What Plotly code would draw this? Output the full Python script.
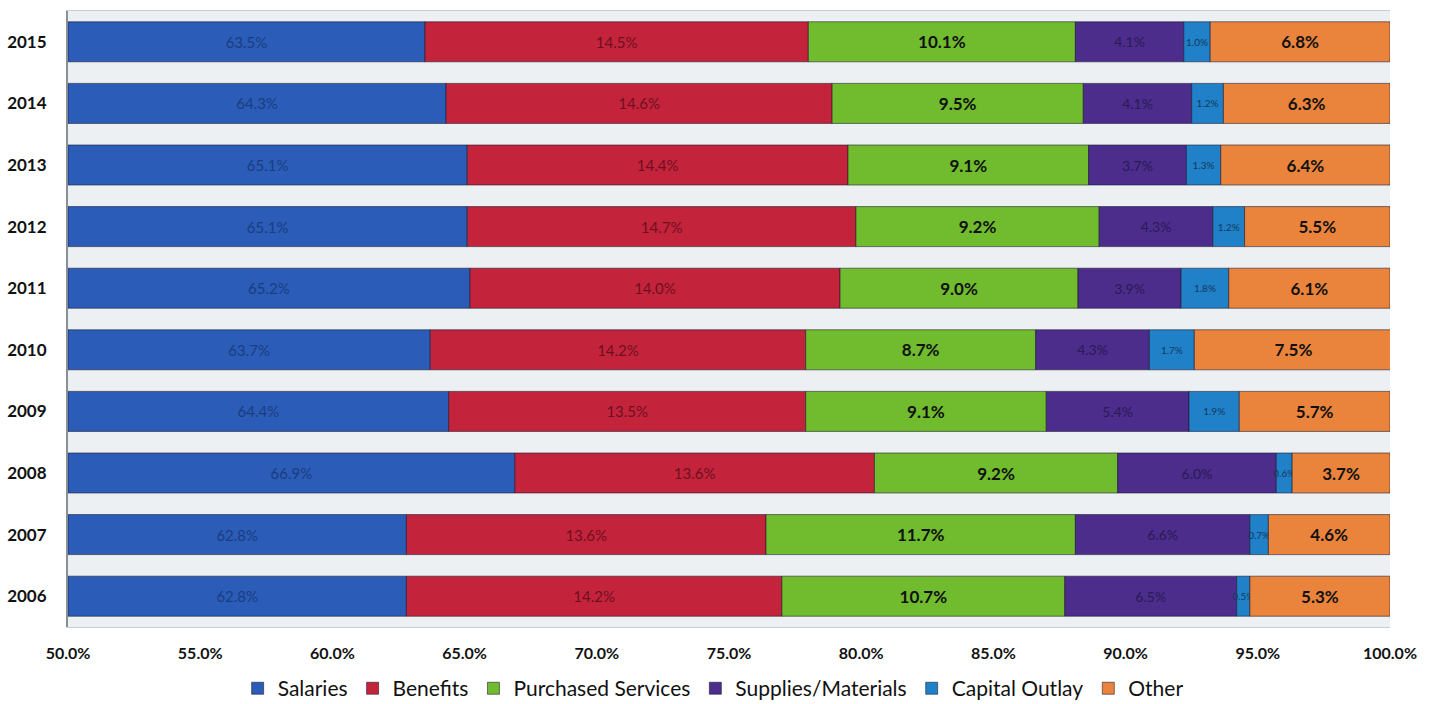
import plotly.graph_objects as go

# Share of total expenditure by category, per year
years = ["2006", "2007", "2008", "2009", "2010", "2011", "2012", "2013", "2014", "2015"]
salaries = [62.8, 62.8, 66.9, 64.4, 63.7, 65.2, 65.1, 65.1, 64.3, 63.5]
benefits = [14.2, 13.6, 13.6, 13.5, 14.2, 14.0, 14.7, 14.4, 14.6, 14.5]
purchased = [10.7, 11.7, 9.2, 9.1, 8.7, 9.0, 9.2, 9.1, 9.5, 10.1]
supplies = [6.5, 6.6, 6.0, 5.4, 4.3, 3.9, 4.3, 3.7, 4.1, 4.1]
capital = [0.5, 0.7, 0.6, 1.9, 1.7, 1.8, 1.2, 1.3, 1.2, 1.0]
other = [5.3, 4.6, 3.7, 5.7, 7.5, 6.1, 5.5, 6.4, 6.3, 6.8]

x_ticks = [50, 55, 60, 65, 70, 75, 80, 85, 90, 95, 100]
AXIS_START = 50

FONT = "Lato"

series = [
    ("Salaries", salaries, "#2a5cb8", "#1c3c80", 15, "normal"),
    ("Benefits", benefits, "#c4233c", "#6e1020", 15, "normal"),
    ("Purchased Services", purchased, "#70bb2e", "#111111", 17, "bold"),
    ("Supplies/Materials", supplies, "#4c2d8c", "#2a1a55", 14, "normal"),
    ("Capital Outlay", capital, "#2080c8", "#123a5c", 10, "normal"),
    ("Other", other, "#ea843c", "#111111", 17, "bold"),
]

fig = go.Figure()
running = [0.0] * len(years)
for i, (name, vals, color, tcolor, tsize, tweight) in enumerate(series):
    if i == 0:
        # the axis starts at 50%, so the first segment is drawn from there
        base = [AXIS_START] * len(years)
        widths = [v - AXIS_START for v in vals]
    else:
        base = list(running)
        widths = list(vals)
    running = [r + v for r, v in zip(running, vals)]
    fig.add_trace(go.Bar(
        y=years,
        x=widths,
        base=base,
        name=name,
        orientation="h",
        marker=dict(color=color, line=dict(color="rgba(20,20,40,0.55)", width=1)),
        customdata=vals,
        texttemplate="%{customdata:.1f}%",
        textposition="inside",
        insidetextanchor="middle",
        constraintext="none",
        textangle=0,
        textfont=dict(family=FONT, size=tsize, color=tcolor, weight=tweight),
        hovertemplate=name + " %{y}: %{customdata:.1f}%<extra></extra>",
    ))

fig.update_layout(
    barmode="overlay",
    bargap=0.35,
    width=1439,
    height=704,
    margin=dict(l=68, r=49, t=11, b=77, autoexpand=False),
    paper_bgcolor="white",
    plot_bgcolor="#edf0f2",
    font=dict(family=FONT, color="#111111"),
    showlegend=True,
    legend=dict(
        orientation="h",
        x=0.488,
        xanchor="center",
        y=-0.1,
        yanchor="middle",
        font=dict(family=FONT, size=21, color="#111111"),
        traceorder="normal",
        itemwidth=30,
    ),
    xaxis=dict(
        range=[AXIS_START, 100],
        tickvals=x_ticks,
        ticktext=[f"{v:.1f}%" for v in x_ticks],
        tickfont=dict(family=FONT, size=16, color="#111111", weight="bold"),
        showgrid=False,
        zeroline=False,
        showline=True,
        linecolor="#c9cdd2",
        mirror=True,
        ticks="",
        ticklabelstandoff=12,
    ),
    yaxis=dict(
        type="category",
        categoryorder="array",
        categoryarray=years,
        tickfont=dict(family=FONT, size=17, color="#111111", weight="bold"),
        showgrid=False,
        showline=True,
        linecolor="#8a8f96",
        linewidth=2,
        ticks="",
        ticklabelstandoff=16,
    ),
)

fig.write_html("out.html")
